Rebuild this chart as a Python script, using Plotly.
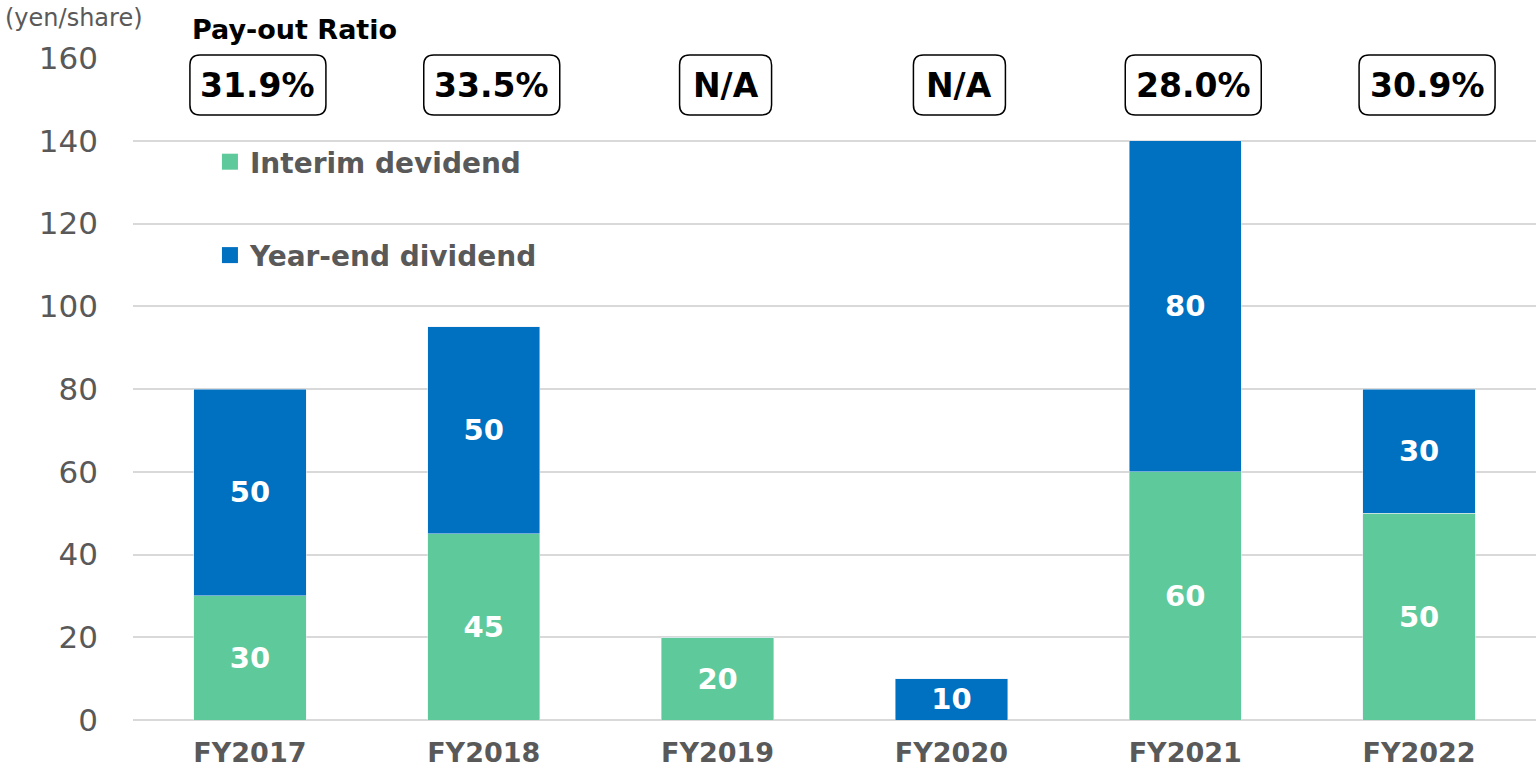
import plotly.graph_objects as go

categories = ["FY2017", "FY2018", "FY2019", "FY2020", "FY2021", "FY2022"]
interim = [30, 45, 20, 0, 60, 50]
year_end = [50, 50, 0, 10, 80, 30]
payout = ["31.9%", "33.5%", "N/A", "N/A", "28.0%", "30.9%"]

GREEN = "#5EC99A"
BLUE = "#0070C0"
GREY = "#595959"
FONT = "DejaVu Sans"

def lbl(vals):
    return [str(v) if v else "" for v in vals]

fig = go.Figure()
fig.add_trace(go.Bar(
    x=categories, y=interim, name="Interim devidend", marker_color=GREEN,
    text=lbl(interim), textposition="inside", insidetextanchor="middle",
    textangle=0, textfont=dict(color="white", size=29, family=FONT, weight="bold"),
    showlegend=False, hoverinfo="y"))
fig.add_trace(go.Bar(
    x=categories, y=year_end, name="Year-end dividend", marker_color=BLUE,
    text=lbl(year_end), textposition="inside", insidetextanchor="middle",
    textangle=0, textfont=dict(color="white", size=29, family=FONT, weight="bold"),
    showlegend=False, hoverinfo="y"))
# legend entries with larger square swatches
fig.add_trace(go.Scatter(x=[None], y=[None], mode="markers", name="Interim devidend",
                         marker=dict(symbol="square", size=17, color=GREEN),
                         legendgroup="a"))
fig.add_trace(go.Scatter(x=[None], y=[None], mode="markers", name="Year-end dividend",
                         marker=dict(symbol="square", size=17, color=BLUE),
                         legendgroup="b"))

def rounded(w, h, dx=8, r=10):
    a, b = w / 2, h / 2
    L, R = -a + dx, a + dx
    return (f"M {L+r},{-b} L {R-r},{-b} Q {R},{-b} {R},{-b+r} "
            f"L {R},{b-r} Q {R},{b} {R-r},{b} L {L+r},{b} Q {L},{b} {L},{b-r} "
            f"L {L},{-b+r} Q {L},{-b} {L+r},{-b} Z")

shapes = []
annotations = []
box_y = (720 - 85) / 662  # paper position of box centre
for cat, p in zip(categories, payout):
    w = 92 if p == "N/A" else 136
    shapes.append(dict(
        type="path", xref="x", yref="paper", xsizemode="pixel", ysizemode="pixel",
        xanchor=cat, yanchor=box_y, path=rounded(w, 60),
        line=dict(color="black", width=1.5), fillcolor="white"))
    annotations.append(dict(
        x=cat, y=box_y, xref="x", yref="paper", text=p, showarrow=False, xshift=8,
        font=dict(size=33, color="black", family=FONT, weight="bold"),
        xanchor="center", yanchor="middle"))
fig.update_layout(shapes=shapes)

annotations.append(dict(
    x=(190 - 133) / 1404, y=(720 - 30) / 662, xref="paper", yref="paper",
    text="<b>Pay-out Ratio</b>", showarrow=False, xanchor="left", yanchor="middle",
    font=dict(size=27, color="black", family=FONT)))
annotations.append(dict(
    x=(3 - 133) / 1404, y=(720 - 18) / 662, xref="paper", yref="paper",
    text="(yen/share)", showarrow=False, xanchor="left", yanchor="middle",
    font=dict(size=24, color=GREY, family=FONT)))

fig.update_layout(
    width=1537, height=772,
    margin=dict(l=133, r=1, t=58, b=52, autoexpand=False),
    barmode="stack", bargap=0.52,
    plot_bgcolor="white", paper_bgcolor="white",
    font=dict(family=FONT, color=GREY),
    annotations=annotations,
    uniformtext=dict(minsize=29, mode="show"),
    legend=dict(
        x=(210 - 133) / 1404, y=(720 - 137) / 662, xanchor="left", yanchor="top",
        traceorder="grouped", tracegroupgap=54,
        font=dict(size=28, color=GREY, family=FONT, weight="bold"),
        bgcolor="rgba(0,0,0,0)", itemwidth=30),
    xaxis=dict(
        type="category", showgrid=False, showline=False, ticks="", automargin=False,
        tickfont=dict(size=27, color=GREY, family=FONT, weight="bold"),
        ticklabelstandoff=14),
    yaxis=dict(
        range=[0, 160], dtick=20, showgrid=True, gridcolor="#D9D9D9", gridwidth=2,
        zeroline=True, zerolinecolor="#D9D9D9", zerolinewidth=2, automargin=False,
        tickfont=dict(size=31, color=GREY, family=FONT),
        ticks="", ticklabelstandoff=34, showline=False),
)

fig.write_html("out.html", post_script="document.body.style.margin='0';",
               config={"displayModeBar": False})
